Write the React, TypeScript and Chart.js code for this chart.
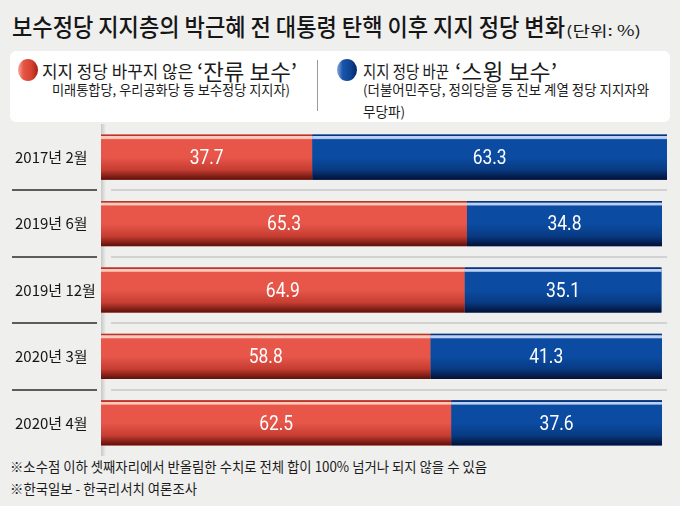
import React, { useEffect, useRef } from "react";
import { Chart, registerables } from "chart.js";
Chart.register(...registerables);

// ---- data ----
const categories = ["2017년 2월", "2019년 6월", "2019년 12월", "2020년 3월", "2020년 4월"];
const stayValues = [37.7, 65.3, 64.9, 58.8, 62.5];
const swingValues = [63.3, 34.8, 35.1, 41.3, 37.6];
const seriesNames = ["잔류 보수", "스윙 보수"];
const axisMax = 101;

const titleText = "보수정당 지지층의 박근혜 전 대통령 탄핵 이후 지지 정당 변화";
const unitText = "(단위: %)";
const stayLabelA = "지지 정당 바꾸지 않은";
const stayLabelB = "‘잔류 보수’";
const staySub = "미래통합당, 우리공화당 등 보수정당 지지자)";
const swingLabelA = "지지 정당 바꾼";
const swingLabelB = "‘스윙 보수’";
const swingSub1 = "(더불어민주당, 정의당을 등 진보 계열 정당 지지자와";
const swingSub2 = "무당파)";
const note1 = "※소수점 이하 셋째자리에서 반올림한 수치로 전체 합이 100% 넘거나 되지 않을 수 있음";
const note2 = "※한국일보 - 한국리서치 여론조사";

const KR = "'Noto Sans CJK KR', 'Noto Sans', sans-serif";
const NUM = "Roboto, 'Noto Sans', sans-serif";

const mctx = document.createElement("canvas").getContext("2d") as CanvasRenderingContext2D;
function measure(text: string, size: number, weight: number, family: string) {
  mctx.font = `${weight} ${size}px ${family}`;
  return mctx.measureText(text).width;
}

function Txt(props: { text: string; x: number; cy: number; w?: number; size: number; weight?: number; color?: string; family?: string }) {
  const { text, x, cy, w, size, weight = 400, color = "#1b1b1b", family = KR } = props;
  const natural = measure(text, size, weight, family);
  const sx = w ? w / natural : 1;
  return (
    <div
      style={{
        position: "absolute",
        left: x,
        top: cy - size / 2,
        height: size,
        lineHeight: `${size}px`,
        fontSize: size,
        fontWeight: weight,
        fontFamily: family,
        color,
        whiteSpace: "nowrap",
        transform: `scaleX(${sx})`,
        transformOrigin: "0 50%",
      }}
    >
      {text}
    </div>
  );
}

const COLORS = {
  stay: { main: "#e8564a", top: "#b8352a", hi: "#f9c9bb", mid: "#c63d31", dark: "#5c0f0a" },
  swing: { main: "#0b4ca2", top: "#07347a", hi: "#bcd0f2", mid: "#083a82", dark: "#031035" },
};

const decorPlugin = {
  id: "decor",
  beforeDatasetsDraw(chart: any) {
    const { ctx, chartArea, scales } = chart;
    const y = scales.y;
    const xr = scales.x.getPixelForValue(axisMax);
    ctx.save();
    const g = ctx.createLinearGradient(chartArea.left, 0, chartArea.left + 5, 0);
    g.addColorStop(0, "rgba(0,0,0,0.16)");
    g.addColorStop(1, "rgba(0,0,0,0)");
    ctx.fillStyle = g;
    ctx.fillRect(chartArea.left, chartArea.top, 5, chartArea.bottom - chartArea.top);
    for (let i = 0; i < categories.length - 1; i++) {
      const yy = Math.round((y.getPixelForValue(i) + y.getPixelForValue(i + 1)) / 2);
      ctx.lineWidth = 1.5;
      ctx.strokeStyle = "#2b2b2b";
      ctx.beginPath();
      ctx.moveTo(12, yy);
      ctx.lineTo(chartArea.left - 4, yy);
      ctx.stroke();
      ctx.strokeStyle = "#c8c8c8";
      ctx.beginPath();
      ctx.moveTo(chartArea.left + 10, yy);
      ctx.lineTo(xr, yy);
      ctx.stroke();
    }
    ctx.restore();
  },
  afterDatasetsDraw(chart: any) {
    const { ctx } = chart;
    ctx.save();
    chart.data.datasets.forEach((ds: any, di: number) => {
      const c = di === 0 ? COLORS.stay : COLORS.swing;
      const meta = chart.getDatasetMeta(di);
      meta.data.forEach((bar: any, i: number) => {
        const p = bar.getProps(["x", "y", "base", "height"], true);
        const left = Math.min(p.x, p.base);
        const right = Math.max(p.x, p.base);
        const top = p.y - p.height / 2;
        const h = p.height;
        const gr = ctx.createLinearGradient(0, top, 0, top + h);
        gr.addColorStop(0, c.top);
        gr.addColorStop(1.3 / h, c.top);
        gr.addColorStop(1.8 / h, c.hi);
        gr.addColorStop(3.8 / h, c.hi);
        gr.addColorStop(5 / h, c.main);
        gr.addColorStop(0.5, c.main);
        gr.addColorStop(0.78, c.mid);
        gr.addColorStop(1, c.dark);
        ctx.fillStyle = gr;
        ctx.fillRect(left, top, right - left, h);
        ctx.save();
        ctx.translate((left + right) / 2, p.y + 1.5);
        ctx.scale(0.83, 1);
        ctx.fillStyle = "#ffffff";
        ctx.font = `400 21px ${NUM}`;
        ctx.textAlign = "center";
        ctx.textBaseline = "middle";
        ctx.fillText(ds.data[i].toFixed(1), 0, 0);
        ctx.restore();
      });
    });
    ctx.restore();
  },
};

function BarChart() {
  const ref = useRef<HTMLCanvasElement>(null);
  useEffect(() => {
    const chart = new Chart(ref.current as HTMLCanvasElement, {
      type: "bar",
      data: {
        labels: categories,
        datasets: [
          { label: seriesNames[0], data: stayValues, backgroundColor: COLORS.stay.main, borderWidth: 0, barPercentage: 0.68, categoryPercentage: 1 },
          { label: seriesNames[1], data: swingValues, backgroundColor: COLORS.swing.main, borderWidth: 0, barPercentage: 0.68, categoryPercentage: 1 },
        ],
      },
      options: {
        indexAxis: "y",
        animation: false,
        responsive: false,
        maintainAspectRatio: false,
        layout: { padding: { left: 15, right: 13, top: 0, bottom: 0 } },
        scales: {
          x: { stacked: true, min: 0, max: axisMax, display: false },
          y: {
            stacked: true,
            grid: { display: false },
            border: { display: false },
            ticks: { color: "#161616", font: { family: KR, size: 15 }, crossAlign: "far", padding: 0 },
            afterFit: (s: any) => {
              s.width = 86;
              s.paddingTop = 0;
              s.paddingBottom = 0;
            },
          },
        },
        plugins: { legend: { display: false }, tooltip: { enabled: false } },
      },
      plugins: [decorPlugin],
    } as any);
    return () => chart.destroy();
  }, []);
  return <canvas ref={ref} width={680} height={332} style={{ position: "absolute", left: 0, top: 124, width: 680, height: 332 }} />;
}

const dot = (left: number, bg: string) => (
  <div style={{ position: "absolute", left, top: 59, width: 20, height: 22, borderRadius: "50%", background: bg }} />
);

export default function App() {
  return (
    <div style={{ position: "fixed", left: 0, top: 0, width: 680, height: 506, background: "#efefee", overflow: "hidden" }}>
      <Txt text={titleText} x={12} cy={26} w={553} size={24} weight={500} color="#161616" />
      <Txt text={unitText} x={566} cy={30} w={75} size={14} color="#161616" />
      <div style={{ position: "absolute", left: 10, top: 51, width: 660, height: 71, background: "#ffffff", borderRadius: 6 }} />
      {dot(18, "linear-gradient(90deg, #f6a595 0%, #e65444 28%, #d4412f 70%, #9c2016 100%)")}
      <Txt text={stayLabelA} x={42} cy={70} w={151} size={17} />
      <Txt text={stayLabelB} x={197} cy={70} w={100} size={22} />
      <Txt text={staySub} x={52} cy={90} w={238} size={13.5} />
      <div style={{ position: "absolute", left: 317, top: 60, width: 1, height: 51, background: "#9a9a9a" }} />
      {dot(337, "linear-gradient(90deg, #86a6dc 0%, #1a56ad 28%, #0d4291 70%, #062660 100%)")}
      <Txt text={swingLabelA} x={363} cy={70} w={86} size={17} />
      <Txt text={swingLabelB} x={455} cy={70} w={102} size={22} />
      <Txt text={swingSub1} x={363} cy={90} w={286} size={13.5} />
      <Txt text={swingSub2} x={363} cy={112} w={42} size={13.5} />
      <BarChart />
      <Txt text={note1} x={10} cy={466} w={477} size={14} />
      <Txt text={note2} x={10} cy={488} w={187} size={14} />
    </div>
  );
}
